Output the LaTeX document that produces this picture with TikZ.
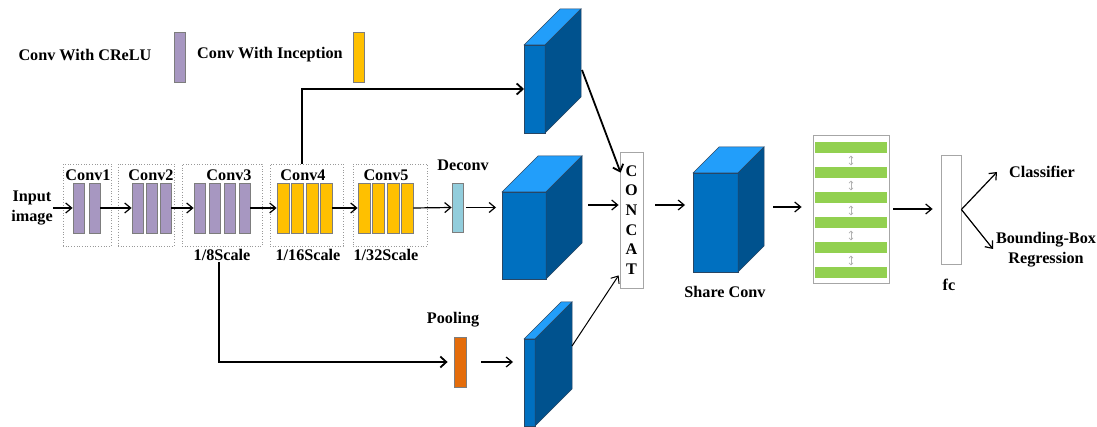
\documentclass[tikz,border=0pt]{standalone}
\usepackage{fontspec}
\setmainfont{Liberation Serif}
\usetikzlibrary{arrows.meta,calc}

\definecolor{crelu}{RGB}{167,151,193}
\definecolor{incep}{RGB}{255,192,0}
\definecolor{deconvc}{RGB}{146,205,220}
\definecolor{poolc}{RGB}{228,108,10}
\definecolor{stripec}{RGB}{146,208,80}
\definecolor{cubefront}{RGB}{0,112,192}
\definecolor{cubetop}{RGB}{34,158,250}
\definecolor{cubeside}{RGB}{0,82,142}
\definecolor{cubeline}{RGB}{40,70,100}
\definecolor{barline}{RGB}{125,125,125}

% feature-map block: name, left, top, width, height, depth
\newcommand{\featcube}[6]{%
  \node[cubeface, anchor=north west, minimum width=#4pt, minimum height=#5pt] (#1) at (#2,#3) {};
  \filldraw[cubeedge, fill=cubetop] (#1.north west) -- ++(#6,-#6) -- ++(#4,0) -- (#1.north east) -- cycle;
  \filldraw[cubeedge, fill=cubeside] (#1.north east) -- ++(#6,-#6) -- ++(0,#5) -- (#1.south east) -- cycle;
}

\tikzset{
  lbl/.style={inner sep=0pt, font=\fontsize{16.2}{19.6}\selectfont\bfseries},
  bar/.style={draw=barline, line width=0.8pt, inner sep=0pt, minimum width=11pt, minimum height=50pt},
  crbar/.style={bar, fill=crelu},
  inbar/.style={bar, fill=incep, minimum width=12pt},
  grp/.style={draw=gray!80, dotted, line width=0.7pt, inner sep=0pt, minimum height=82pt},
  cubeface/.style={draw=cubeline, line width=0.5pt, fill=cubefront, inner sep=0pt, outer sep=0pt},
  cubeedge/.style={draw=cubeline, line width=0.5pt},
  arr/.style={line width=1.2pt, -{Straight Barb[length=6pt,width=10pt]}},
  thick arr/.style={line width=1.8pt, -{Straight Barb[length=6pt,width=11pt]}},
  plainbox/.style={draw=gray!70, line width=0.8pt, fill=white, inner sep=0pt},
  dbl/.style={draw=gray!60, line width=0.6pt, {Straight Barb[length=2pt,width=4pt]}-{Straight Barb[length=2pt,width=4pt]}}
}

\begin{document}
\begin{tikzpicture}[x=1pt, y=-1pt]
\useasboundingbox (0,0) rectangle (1097,427);

% legend
\node[lbl] (legA) at (85,55) {Conv With CReLU};
\node[crbar] (legAbar) at (180,57) {};
\node[lbl] (legB) at (270,55) {Conv With Inception};
\node[inbar, minimum width=11pt] (legBbar) at (358.5,57) {};

% input
\node[lbl, align=center] (inp) at (32,208) {Input\\image};

% stage groups
\node[grp, minimum width=48pt] (g1) at (87,205) {};
\node[grp, minimum width=56pt] (g2) at (146,205) {};
\node[grp, minimum width=80pt] (g3) at (222,205) {};
\node[grp, minimum width=73pt] (g4) at (306.5,205) {};
\node[grp, minimum width=74pt] (g5) at (390,205) {};

\node[lbl] (l1) at (88,175) {Conv1};
\node[lbl] (l2) at (151,175) {Conv2};
\node[lbl] (l3) at (229,175) {Conv3};
\node[lbl] (l4) at (303,175) {Conv4};
\node[lbl] (l5) at (386,175) {Conv5};

% conv layers
\node[crbar] (c1a) at (78.5,208) {};
\node[crbar] (c1b) at (94.5,208) {};
\node[crbar] (c2a) at (137.5,208) {};
\node[crbar] (c2b) at (151.5,208) {};
\node[crbar] (c2c) at (165.5,208) {};
\node[crbar] (c3a) at (199.5,208) {};
\node[crbar] (c3b) at (214.5,208) {};
\node[crbar] (c3c) at (229.5,208) {};
\node[crbar] (c3d) at (244.5,208) {};
\node[inbar] (c4a) at (283,208) {};
\node[inbar] (c4b) at (297,208) {};
\node[inbar] (c4c) at (312,208) {};
\node[inbar] (c4d) at (326,208) {};
\node[inbar] (c5a) at (364,208) {};
\node[inbar] (c5b) at (378,208) {};
\node[inbar] (c5c) at (393,208) {};
\node[inbar] (c5d) at (407,208) {};

\node[lbl] (s8) at (222,255) {1/8Scale};
\node[lbl] (s16) at (308,255) {1/16Scale};
\node[lbl] (s32) at (386,255) {1/32Scale};

% deconv and pooling
\node[lbl] (ldec) at (463,165) {Deconv};
\node[bar, fill=deconvc, minimum height=49pt] (dec) at (457.5,207.5) {};
\node[lbl] (lpool) at (453,320) {Pooling};
\node[bar, fill=poolc, minimum width=12pt] (pool) at (460,362) {};

% feature blocks
\featcube{cubeA}{524}{45}{21}{88}{36}
\featcube{cubeB}{502}{192}{44}{87}{36}
\featcube{cubeC}{524}{339}{11}{87}{37}
\featcube{share}{693}{173}{45}{99}{26}
\node[lbl] (lshare) at (725,292) {Share Conv};

% concat
\node[plainbox, minimum width=23pt, minimum height=136pt] (concat) at (631.5,220) {};
\node[lbl, align=center] (concatT) at (631.5,220) {C\\O\\N\\C\\A\\T};

% striped feature map
\node[plainbox, minimum width=76pt, minimum height=148pt] (stripes) at (851,209) {};
\foreach \i in {1,...,6}{
  \node[fill=stripec, inner sep=0pt, minimum width=72pt, minimum height=11pt] (st\i) at (851,{148+25*(\i-1)}) {};
}
\foreach \i [evaluate=\i as \j using int(\i+1)] in {1,...,5}{
  \draw[dbl] ([yshift=-2pt]st\i.south) -- ([yshift=2pt]st\j.north);
}

% fully connected
\node[plainbox, minimum width=20pt, minimum height=109pt] (fc) at (951,209.5) {};
\node[lbl] (lfc) at (949,285) {fc};
\node[lbl] (cls) at (1042,172) {Classifier};
\node[lbl, align=center] (bbox) at (1046,249.5) {Bounding-Box\\Regression};
\coordinate (clsTip) at (997,172);
\coordinate (bbTip) at (993,249);

% main chain
\draw[arr] (inp.east) -- (c1a.west);
\draw[arr] (c1b.east) -- (c2a.west);
\draw[arr] (c2c.east) -- (c3a.west);
\draw[arr] (c3d.east) -- (c4a.west);
\draw[arr] (c4d.east) -- (c5a.west);
\draw[arr] (c5d.east) -- (dec.west);
\draw[arr, shorten <=3pt, shorten >=6pt] (dec.east) -- (dec.east -| cubeB.west);

% skip branches
\coordinate (c4up) at ($(g4.north)+(-4.5,0)$);
\draw[thick arr] (c4up) |- (cubeA.west);
\coordinate (c3down) at ($(g3.south)+(-3,16)$);
\draw[thick arr, shorten >=6pt] (c3down) |- (pool.west);
\draw[arr, shorten <=15pt, shorten >=11pt] (pool.east) -- (pool.east -| cubeC.west);

% into concat
\coordinate (aOut) at ($(cubeA.north east)+(37,25)$);
\draw[thick arr] (aOut) -- ($(concat.north west)+(1,21)$);
\coordinate (bOut) at ($(cubeB.north east)+(42,13)$);
\draw[arr, shorten >=1pt] (bOut) -- (bOut -| concat.west);
\coordinate (cOut) at ($(cubeC.north east)+(37,7)$);
\draw[arr, line width=1pt] (cOut) -- ($(concat.south west)+(-1,-13)$);

% after concat
\draw[arr, shorten <=12pt, shorten >=8pt] (bOut -| concat.east) -- (bOut -| share.west);
\coordinate (sOut) at ($(share.north east)+(35,34)$);
\draw[arr, shorten >=11pt] (sOut) -- (sOut -| stripes.west);
\draw[arr, shorten <=4pt, shorten >=8pt] (stripes.east) -- (stripes.east -| fc.west);
\draw[arr] (fc.east) -- (clsTip);
\draw[arr] (fc.east) -- (bbTip);
\end{tikzpicture}
\end{document}
